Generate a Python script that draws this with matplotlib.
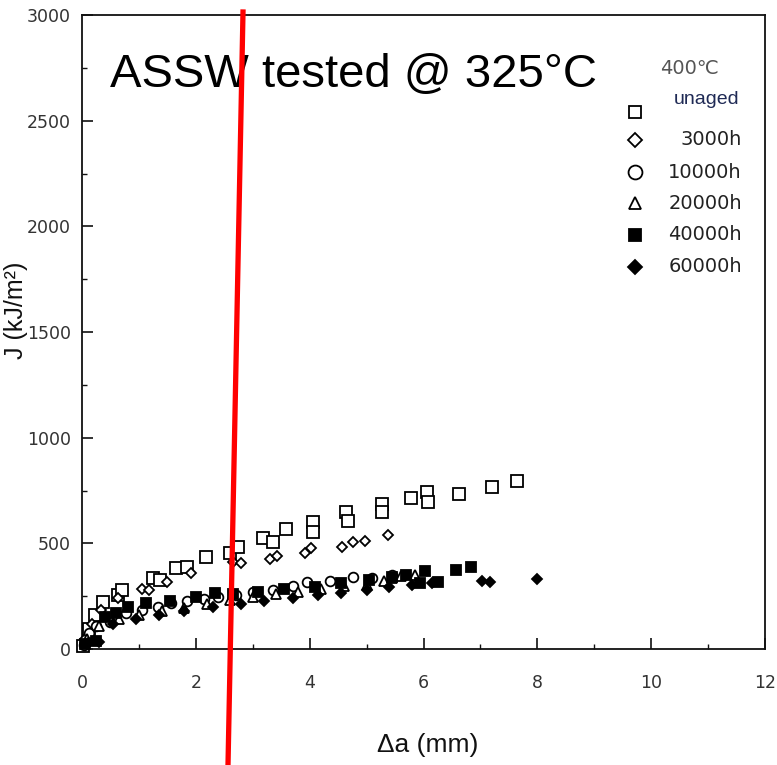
import matplotlib
matplotlib.use("Agg")
import matplotlib.pyplot as plt
from matplotlib.lines import Line2D
from matplotlib.ticker import MultipleLocator

# ---- data ----
unaged_x = [0.02, 0.12, 0.22, 0.37, 0.63, 0.70, 1.25, 1.37, 1.66, 1.84, 2.17, 2.60, 2.74, 3.18, 3.36, 3.59,
            4.05, 4.05, 4.64, 4.67, 5.27, 5.27, 5.78, 6.06, 6.08, 6.62, 7.20, 7.64]
unaged_y = [15, 95, 160, 224, 255, 279, 334, 326, 382, 389, 434, 453, 484, 524, 508, 566,
            600, 555, 650, 607, 686, 650, 713, 744, 694, 732, 765, 796]

h3000_x = [0.05, 0.18, 0.33, 0.64, 1.05, 1.18, 1.50, 1.91, 2.65, 2.80, 3.30, 3.42, 3.91, 4.03, 4.57, 4.77, 4.98, 5.37]
h3000_y = [45, 120, 185, 240, 282, 279, 318, 358, 413, 405, 424, 440, 453, 476, 484, 508, 512, 539]

h10000_x = [0.03, 0.12, 0.25, 0.49, 0.78, 1.05, 1.33, 1.57, 1.85, 2.15, 2.39, 2.70, 3.00, 3.35, 3.70, 3.96,
            4.35, 4.76, 5.10, 5.45]
h10000_y = [20, 75, 110, 129, 168, 185, 200, 216, 225, 235, 247, 255, 268, 280, 300, 318, 320, 342, 335, 348]

h20000_x = [0.08, 0.30, 0.65, 1.00, 1.40, 1.80, 2.20, 2.60, 3.00, 3.40, 3.80, 4.20, 4.60, 5.00, 5.30, 5.45,
            5.60, 5.85]
h20000_y = [45, 110, 140, 160, 180, 195, 212, 230, 245, 258, 272, 285, 298, 305, 320, 335, 345, 350]

h40000_x = [0.05, 0.25, 0.40, 0.60, 0.81, 1.13, 1.55, 2.01, 2.33, 2.65, 3.10, 3.55, 4.10, 4.55, 5.05, 5.45,
            5.70, 5.93, 6.02, 6.25, 6.57, 6.84]
h40000_y = [25, 40, 150, 170, 200, 216, 228, 247, 263, 262, 270, 285, 295, 310, 325, 340, 350, 311, 370, 318,
            374, 386]

h60000_x = [0.10, 0.30, 0.55, 0.95, 1.35, 1.80, 2.30, 2.80, 3.20, 3.70, 4.15, 4.55, 5.00, 5.40, 5.80, 6.15,
            7.03, 7.17, 8.00]
h60000_y = [30, 35, 120, 140, 160, 180, 200, 215, 225, 240, 255, 265, 280, 295, 305, 310, 322, 319, 330]

legend_labels = ["unaged", "3000h", "10000h", "20000h", "40000h", "60000h"]
legend_title = "400℃"
title_text = "ASSW tested @ 325°C"

# ---- figure ----
fig = plt.figure(figsize=(7.77, 7.65), dpi=100)
ax = fig.add_axes([82 / 777, 1 - 649 / 765, 683 / 777, 634 / 765])
ax.set_xlim(0, 12)
ax.set_ylim(0, 3000)

series = [
    (unaged_x, unaged_y, "s", 8.0, "white"),
    (h3000_x, h3000_y, "D", 5.0, "white"),
    (h10000_x, h10000_y, "o", 7.0, "white"),
    (h20000_x, h20000_y, "^", 7.0, "white"),
    (h40000_x, h40000_y, "s", 6.5, "black"),
    (h60000_x, h60000_y, "D", 5.0, "black"),
]
for xs, ys, mk, ms, fc in series:
    ax.plot(xs, ys, linestyle="none", marker=mk, markersize=ms, markerfacecolor=fc,
            markeredgecolor="black", markeredgewidth=1.3, clip_on=False, zorder=3)

# axes styling
for sp in ax.spines.values():
    sp.set_linewidth(1.3)
    sp.set_color("#111111")
ax.xaxis.set_major_locator(MultipleLocator(2))
ax.xaxis.set_minor_locator(MultipleLocator(1))
ax.yaxis.set_major_locator(MultipleLocator(500))
ax.yaxis.set_minor_locator(MultipleLocator(250))
ax.tick_params(which="major", direction="in", length=8, width=1.2, colors="#111111",
               labelcolor="#333333", labelsize=12.5)
ax.tick_params(which="minor", direction="in", length=3.5, width=1.0, colors="#111111")
ax.tick_params(axis="x", which="major", pad=18)
ax.tick_params(axis="y", which="major", pad=8)
for lab in ax.get_xticklabels() + ax.get_yticklabels():
    lab.set_family("DejaVu Sans")

# legend drawn manually in axes fraction
lx = 0.810
rows_y = [0.847, 0.803, 0.752, 0.703, 0.653, 0.603]
markers = [("s", 9, "white"), ("D", 7, "white"), ("o", 10, "white"), ("^", 9, "white"),
           ("s", 8, "black"), ("D", 7, "black")]
for (mk, ms, fc), yy in zip(markers, rows_y):
    ax.add_line(Line2D([lx], [yy], transform=ax.transAxes, linestyle="none", marker=mk,
                       markersize=ms, markerfacecolor=fc, markeredgecolor="black",
                       markeredgewidth=1.3))
ax.text(0.915, 0.866, legend_labels[0], transform=ax.transAxes, ha="center", va="center",
        fontsize=14, color="#1f2a55", family="Liberation Sans")
for lab, yy in zip(legend_labels[1:], rows_y[1:]):
    ax.text(0.966, yy, lab, transform=ax.transAxes, ha="right", va="center",
            fontsize=14, color="#222222", family="DejaVu Sans")
ax.text(0.890, 0.916, legend_title, transform=ax.transAxes, ha="center", va="center",
        fontsize=14, color="#555555", family="DejaVu Sans")

# big annotation
fig.text(110 / 777, 1 - 75 / 765, title_text, ha="left", va="center", fontsize=34,
         family="Liberation Sans", color="black")

# axis labels
fig.text(16 / 777, 1 - 310 / 765, "J (kJ/m²)", rotation=90, ha="center", va="center",
         fontsize=18, family="Liberation Sans", color="#111111")
fig.text(428 / 777, 1 - 745 / 765, "Δa (mm)", ha="center", va="center",
         fontsize=19, family="Liberation Sans", color="#111111")

# red vertical marker line
fig.add_artist(Line2D([243 / 777, 228 / 777], [1 - 12 / 765, 0.0], transform=fig.transFigure,
                      color="#ff0000", linewidth=3.8, zorder=10))

fig.savefig("out.png", dpi=100)
